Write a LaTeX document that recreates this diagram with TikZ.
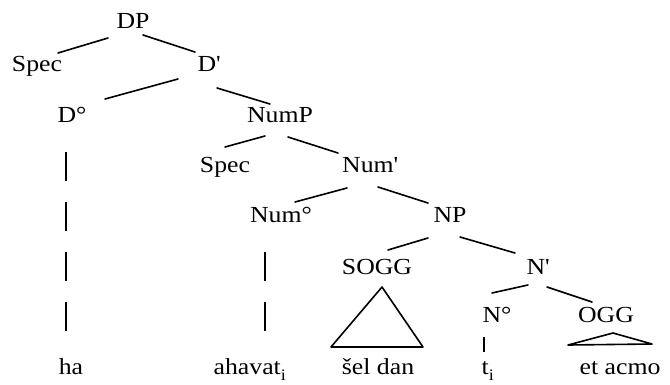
\documentclass[tikz,border=0pt]{standalone}
\usepackage{fontspec}
\setmainfont{Liberation Serif}[FakeStretch=1.12]
\begin{document}
\begin{tikzpicture}[x=1pt,y=-1pt,
  lbl/.style={anchor=base,inner sep=0pt,font=\fontsize{23}{26}\selectfont},
  branch/.style={line width=1.6pt,line cap=round},
  dashline/.style={line width=1.4pt,dash pattern=on 29pt off 21pt}]
\useasboundingbox (0,0) rectangle (670,384);

% category labels, placed on their baselines
\node[lbl] (DP)    at (133,28)  {DP};
\node[lbl] (SpecA) at (37,71)   {Spec};
\node[lbl] (Dbar)  at (209,71)  {D\textquotesingle};
\node[lbl] (Dzero) at (72,122)  {D°};
\node[lbl] (NumP)  at (280,122) {NumP};
\node[lbl] (SpecB) at (225,172) {Spec};
\node[lbl] (Numbar) at (370,172) {Num\textquotesingle};
\node[lbl] (Numzero) at (281,222) {Num°};
\node[lbl] (NP)    at (450,222) {NP};
\node[lbl] (SOGG)  at (377,274) {SOGG};
\node[lbl] (Nbar)  at (538,274) {N\textquotesingle};
\node[lbl] (Nzero) at (497,322) {N°};
\node[lbl] (OGG)   at (606,322) {OGG};

% terminal words
\node[lbl] (ha)     at (71,374)  {ha};
\node[lbl] (ahavat) at (250,374) {ahavat\raisebox{-3pt}{\textsubscript{i}}};
\node[lbl] (seldan) at (378,374) {šel dan};
\node[lbl] (trace)  at (488,374) {t\raisebox{-3pt}{\textsubscript{i}}};
\node[lbl] (etacmo) at (620,374) {et acmo};

% branches
\draw[branch] ([shift={(-25,10)}]DP.base)   -- ([shift={(21,-18)}]SpecA.base);
\draw[branch] ([shift={(10,7)}]DP.base)     -- ([shift={(-14,-19)}]Dbar.base);
\draw[branch] ([shift={(-31,8)}]Dbar.base)  -- ([shift={(33,-23)}]Dzero.base);
\draw[branch] ([shift={(8,17)}]Dbar.base)   -- ([shift={(-10,-18)}]NumP.base);
\draw[branch] ([shift={(-15,14)}]NumP.base) -- ([shift={(0,-25)}]SpecB.base);
\draw[branch] ([shift={(8,15)}]NumP.base)   -- ([shift={(-32,-19)}]Numbar.base);
\draw[branch] ([shift={(-23,16)}]Numbar.base) -- ([shift={(14,-20)}]Numzero.base);
\draw[branch] ([shift={(8,15)}]Numbar.base) -- ([shift={(-22,-19)}]NP.base);
\draw[branch] ([shift={(-22,16)}]NP.base)   -- ([shift={(11,-24)}]SOGG.base);
\draw[branch] ([shift={(10,15)}]NP.base)    -- ([shift={(-23,-21)}]Nbar.base);
\draw[branch] ([shift={(-10,11)}]Nbar.base) -- ([shift={(-5,-29)}]Nzero.base);
\draw[branch] ([shift={(9,13)}]Nbar.base)   -- ([shift={(-14,-20)}]OGG.base);

% triangles over phrasal material
\draw[branch,line join=round] ([shift={(5,13)}]SOGG.base)
  -- ([shift={(-46,73)}]SOGG.base) -- ([shift={(46,73)}]SOGG.base) -- cycle;
\draw[branch,line join=round] ([shift={(7,11)}]OGG.base)
  -- ([shift={(-38,23)}]OGG.base) -- ([shift={(46,22)}]OGG.base) -- cycle;

% head-to-word links
\draw[dashline] ([shift={(-6,30)}]Dzero.base) -- ([shift={(-5,-41)}]ha.base);
\draw[dashline] ([shift={(-16,30)}]Numzero.base) -- ([shift={(15,-41)}]ahavat.base);
\draw[line width=1.3pt] ([shift={(-13,15)}]Nzero.base) -- ([shift={(-4,-22)}]trace.base);
\end{tikzpicture}
\end{document}
